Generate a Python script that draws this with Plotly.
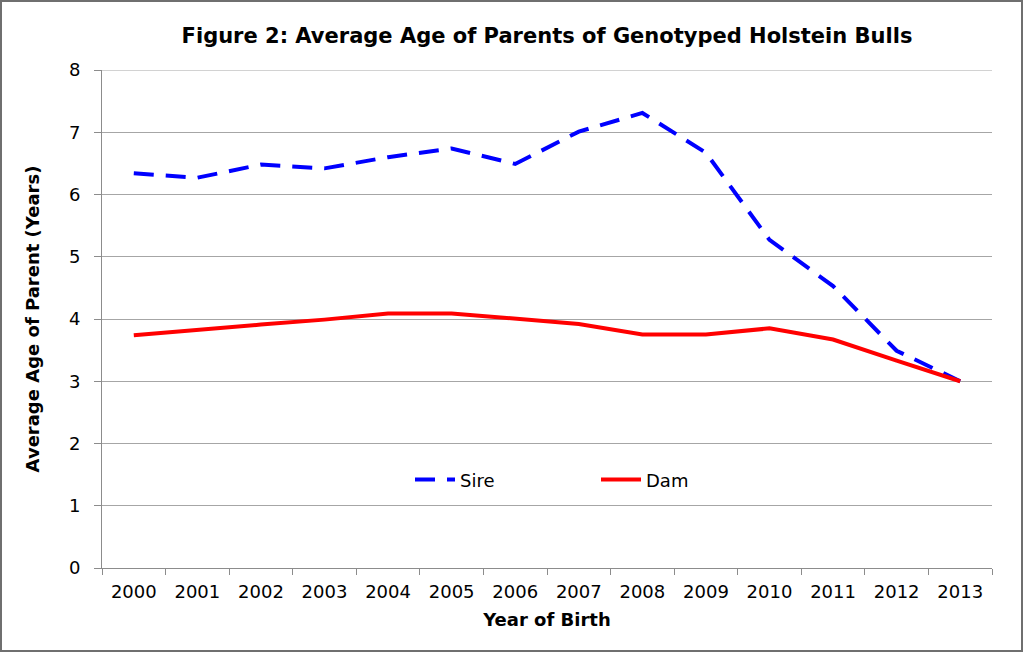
import plotly.graph_objects as go

years = ["2000", "2001", "2002", "2003", "2004", "2005", "2006",
         "2007", "2008", "2009", "2010", "2011", "2012", "2013"]
sire = [6.34, 6.27, 6.48, 6.42, 6.60, 6.74, 6.49, 7.01, 7.31, 6.67, 5.27, 4.53, 3.49, 3.00]
dam = [3.74, 3.83, 3.91, 3.99, 4.09, 4.09, 4.00, 3.92, 3.75, 3.75, 3.85, 3.67, 3.33, 3.00]

W, H = 1024, 653
L, R, T, B = 102, 32, 70, 85
pw, ph = W - L - R, H - T - B
FONT = "DejaVu Sans, Liberation Sans, Arial, sans-serif"

fig = go.Figure()
fig.add_trace(go.Scatter(x=years, y=sire, name="Sire", mode="lines",
                         line=dict(color="#0000FF", width=4, dash="20px,12px")))
fig.add_trace(go.Scatter(x=years, y=dam, name="Dam", mode="lines",
                         line=dict(color="#FF0000", width=4)))

fig.update_layout(
    width=W, height=H,
    margin=dict(l=L, r=R, t=T, b=B),
    paper_bgcolor="white", plot_bgcolor="white",
    font=dict(family=FONT, size=18, color="black"),
    title=dict(text="<b>Figure 2: Average Age of Parents of Genotyped Holstein Bulls</b>",
               xref="paper", x=0.5, xanchor="center", y=1 - 36 / H, yanchor="middle",
               font=dict(size=21, family=FONT)),
    showlegend=True,
    legend=dict(orientation="h", x=(410 - L) / pw, xanchor="left", y=0.177, yanchor="middle",
                bgcolor="rgba(0,0,0,0)", font=dict(size=18), itemwidth=40,
                entrywidth=131, entrywidthmode="pixels"),
    xaxis=dict(type="category", showgrid=False, showline=True, linecolor="#8c8c8c",
               linewidth=1, ticks="outside", tickson="boundaries", ticklen=6,
               tickcolor="#8c8c8c", tickfont=dict(size=18), ticklabelstandoff=7,
               title=dict(text="<b>Year of Birth</b>", font=dict(size=18), standoff=12),
               range=[-0.5, 13.5]),
    yaxis=dict(range=[0, 8], dtick=1, showgrid=True, gridcolor="#a6a6a6", gridwidth=1,
               showline=True, linecolor="#8c8c8c", linewidth=1, ticks="outside",
               ticklen=7, tickcolor="#8c8c8c", tickfont=dict(size=18), zeroline=False,
               ticklabelstandoff=10,
               title=dict(text="<b>Average Age of Parent (Years)</b>", font=dict(size=18),
                          standoff=24)),
)

# top gridline at 8
fig.add_shape(type="line", xref="paper", yref="y", x0=0, x1=1, y0=8, y1=8,
              line=dict(color="#a6a6a6", width=1), layer="below")

# outer frame
fig.add_shape(type="rect", xref="paper", yref="paper",
              x0=(1 - L) / pw, x1=(W - 2 - L) / pw,
              y0=(T + ph - (H - 2)) / ph, y1=(T + ph - 1) / ph,
              line=dict(color="#6f6f6f", width=2), fillcolor="rgba(0,0,0,0)", layer="above")

fig.write_html("out.html", config={"displayModeBar": False},
               post_script="document.body.style.margin='0';document.body.style.overflow='hidden';")
